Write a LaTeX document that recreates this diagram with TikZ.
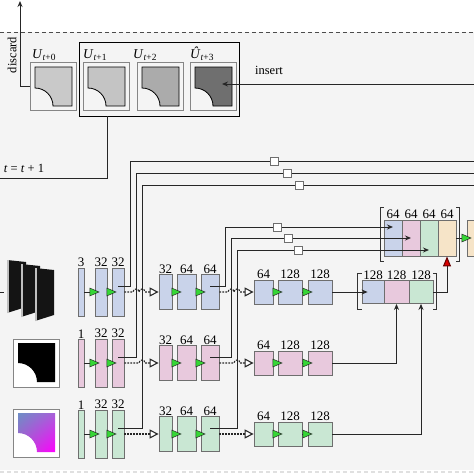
\documentclass[tikz,border=0pt]{standalone}
\usepackage{fontspec}
\setmainfont{Liberation Serif}
\usetikzlibrary{arrows.meta,calc,shadings}
\definecolor{bgc}{HTML}{F4F4F4}
\definecolor{cblue}{HTML}{C9D3EA}
\definecolor{cpink}{HTML}{E8C9DD}
\definecolor{cgreen}{HTML}{C9E7D3}
\definecolor{corange}{HTML}{F6E4C8}
\definecolor{bord}{HTML}{6E6E6E}
\definecolor{fgray}{HTML}{858585}
\definecolor{garrow}{HTML}{36D636}
\definecolor{cuA}{HTML}{C9C9C9}
\definecolor{cuB}{HTML}{C4C4C4}
\definecolor{cuC}{HTML}{ABABAB}
\definecolor{cuD}{HTML}{6F6F6F}
\definecolor{gUL}{HTML}{6E8EC6}
\definecolor{gUR}{HTML}{A860D8}
\definecolor{gLL}{HTML}{B050D0}
\definecolor{gLR}{HTML}{FF00FF}
\begin{document}
\begin{tikzpicture}[x=1pt,y=1pt,
  bx/.style={draw=bord, line width=0.8pt, inner sep=0pt},
  lab/.style={font=\fontsize{13}{13}\selectfont, inner sep=0.4pt, anchor=south},
  txt/.style={font=\fontsize{12.5}{12.5}\selectfont, inner sep=0pt},
  ln/.style={line width=1pt, draw=black!85},
  garr/.style={ln, -{Triangle[length=10pt,width=8.5pt,fill=garrow,line width=0.5pt]}, shorten >=-5pt},
  darr/.style={ln, line width=1.1pt, dash pattern=on 1.8pt off 1.2pt, -{Triangle[length=9pt,width=9pt,fill=white]}},
  karr/.style={ln, -{Stealth[length=6pt,width=5pt]}},
  sq/.style={draw=bord, fill=white, minimum size=8pt, inner sep=0pt, line width=0.8pt},
  frm/.style={draw=fgray, line width=0.9pt, minimum width=46pt, minimum height=48pt, inner sep=0pt},
  brk/.style={line width=0.9pt, draw=black!80},
]
\clip (0,0) rectangle (474,-474);
\fill[white] (0,0) rectangle (474,-474);
\fill[bgc] (0,-32) rectangle (474,-470);
\draw[dash pattern=on 4pt off 3pt, line width=0.8pt, black!70] (0,-32) -- (474,-32);
\draw[dash pattern=on 4pt off 3pt, line width=1.2pt, black!12] (0,-472) -- (474,-472);

% ---------- top: buffer ----------
\node[draw=black, line width=1pt, minimum width=160pt, minimum height=74pt, inner sep=0pt] (big) at (159,-79) {};
\node[frm] (u0) at (53,-86) {};
\node[frm] (u1) at (106,-86) {};
\node[frm] (u2) at (160,-86) {};
\node[frm] (u3) at (213,-86) {};
\foreach \L/\c in {30/cuA, 83/cuB, 137/cuC, 190/cuD}{
  \filldraw[fill=\c, draw=black, line width=0.8pt] (\L+5,-67) -- (\L+42,-67) -- (\L+42,-106) -- (\L+23,-106) arc[start angle=0,end angle=90,radius=18] -- cycle;
}
\node[anchor=base west, inner sep=0pt, font=\fontsize{13.5}{13.5}\selectfont] (lu0) at (32,-58) {\textit{U}\textsubscript{\textit{t}+0}};
\node[anchor=base west, inner sep=0pt, font=\fontsize{13.5}{13.5}\selectfont] (lu1) at (83,-58) {\textit{U}\textsubscript{\textit{t}+1}};
\node[anchor=base west, inner sep=0pt, font=\fontsize{13.5}{13.5}\selectfont] (lu2) at (133,-58) {\textit{U}\textsubscript{\textit{t}+2}};
\node[anchor=base west, inner sep=0pt, font=\fontsize{13.5}{13.5}\selectfont] (lu3) at (190,-58) {\textit{Û}\textsubscript{\textit{t}+3}};

\coordinate (disc) at (20,-1);
\draw[karr] (u0.west) -| (disc);
\node[txt, rotate=90] (tdis) at (12,-55) {discard};

\coordinate (insS) at (474,-84);
\coordinate (insT) at (222,-84);
\draw[karr] (insS) -- (insT);
\node[txt] (tins) at (269,-70) {insert};

\coordinate (bigS) at (107,-116);
\coordinate (tL) at (0,-178);
\draw[ln] (bigS) |- (tL);
\node[txt] (tt) at (24,-168) {\textit{t} = \textit{t} + 1};

% ---------- left inputs ----------
\foreach \L/\T in {7/260, 21/264, 35/268}{
  \fill[black!92] (\L,-\T) -- (\L+19,-\T-2) -- (\L+19,-\T-47) -- (\L,-\T-53) -- cycle;
  \draw[black!25, line width=1.6pt] (\L+0.8,-\T) -- (\L+0.8,-\T-53);
}
\coordinate (stubA) at (0,-292);
\coordinate (stubB) at (4,-292);
\draw[ln] (stubA) -- (stubB);

\node[frm, fill=white] (im2) at (36,-363) {};
\fill[black] (18,-343) -- (55,-343) -- (55,-382) -- (37,-382) arc[start angle=0,end angle=90,radius=19] -- cycle;
\node[frm, fill=white] (im3) at (36,-433) {};
\shade[upper left=gUL, upper right=gUR, lower left=gLL, lower right=gLR] (18,-413) -- (55,-413) -- (55,-452) -- (37,-452) arc[start angle=0,end angle=90,radius=19] -- cycle;

% ---------- encoder rows ----------
\foreach \r/\yy/\col/\ch in {1/292/cblue/3, 2/363/cpink/1, 3/434/cgreen/1}{
  \node[bx,fill=\col,minimum width=6pt,minimum height=48pt] (a\r) at (81,-\yy) {};
  \node[bx,fill=\col,minimum width=12pt,minimum height=48pt] (b\r) at (101,-\yy) {};
  \node[bx,fill=\col,minimum width=12pt,minimum height=48pt] (c\r) at (118,-\yy) {};
  \node[bx,fill=\col,minimum width=13pt,minimum height=35pt] (d\r) at (165.5,-\yy) {};
  \node[bx,fill=\col,minimum width=19pt,minimum height=35pt] (e\r) at (186.5,-\yy) {};
  \node[bx,fill=\col,minimum width=18pt,minimum height=35pt] (f\r) at (210,-\yy) {};
  \node[bx,fill=\col,minimum width=19pt,minimum height=24pt] (g\r) at (263.5,-\yy) {};
  \node[bx,fill=\col,minimum width=24pt,minimum height=24pt] (h\r) at (290,-\yy) {};
  \node[bx,fill=\col,minimum width=24pt,minimum height=24pt] (k\r) at (320,-\yy) {};
  \node[lab] (la\r) at (a\r.north) {\ch};
  \node[lab] (lb\r) at (b\r.north) {32};
  \node[lab] (lc\r) at (c\r.north) {32};
  \node[lab] (ld\r) at (d\r.north) {32};
  \node[lab] (le\r) at (e\r.north) {64};
  \node[lab] (lf\r) at (f\r.north) {64};
  \node[lab] (lg\r) at (g\r.north) {64};
  \node[lab] (lh\r) at (h\r.north) {128};
  \node[lab] (lk\r) at (k\r.north) {128};
  \draw[garr] (a\r) -- (b\r);
  \draw[garr] (b\r) -- (c\r);
  \draw[garr] (d\r) -- (e\r);
  \draw[garr] (e\r) -- (f\r);
  \draw[garr] (g\r) -- (h\r);
  \draw[garr] (h\r) -- (k\r);
}

% ---------- concatenation blocks ----------
\node[bx,fill=cblue,minimum width=18pt,minimum height=36pt] (p1) at (393,-238) {};
\node[bx,fill=cpink,minimum width=18pt,minimum height=36pt] (p2) at (411,-238) {};
\node[bx,fill=cgreen,minimum width=18pt,minimum height=36pt] (p3) at (429,-238) {};
\node[bx,fill=corange,minimum width=18pt,minimum height=36pt] (p4) at (447,-238) {};
\node[bx,fill=corange,minimum width=18pt,minimum height=36pt] (o) at (476,-238) {};
\foreach \n in {1,2,3,4}{ \node[lab] (lp\n) at (p\n.north) {64}; }
\draw[brk] ($(p1.north west)+(0,12)$) -- ++(-3,0) -- ++(0,-54) -- ++(3,0);
\draw[brk] ($(p4.north east)+(0,12)$) -- ++(3,0) -- ++(0,-54) -- ++(-3,0);

\node[bx,fill=cblue,minimum width=22pt,minimum height=23pt] (q1) at (373,-292) {};
\node[bx,fill=cpink,minimum width=25pt,minimum height=23pt] (q2) at (396.5,-292) {};
\node[bx,fill=cgreen,minimum width=24pt,minimum height=23pt] (q3) at (421,-292) {};
\foreach \n in {1,2,3}{ \node[lab] (lq\n) at (q\n.north) {128}; }
\draw[brk] ($(q1.north west)+(0,6.5)$) -- ++(-4,0) -- ++(0,-36) -- ++(4,0);
\draw[brk] ($(q3.north east)+(0,6.5)$) -- ++(3,0) -- ++(0,-36) -- ++(-3,0);

% ---------- skip connections ----------
\coordinate (vA1) at (130,-161); \coordinate (eA1) at (474,-161);
\coordinate (vA2) at (136,-173); \coordinate (eA2) at (474,-173);
\coordinate (vA3) at (142,-185); \coordinate (eA3) at (474,-185);
\coordinate (vB1) at (225,-227);
\coordinate (vB2) at (231,-238);
\coordinate (vB3) at (237,-250);
\foreach \r in {1,2,3}{
  \draw[ln] ($(c\r.center)+(0,6)$) -| (vA\r) -- (eA\r);
  \draw[karr] ($(f\r.center)+(0,6)$) -| (vB\r) -- (vB\r -| p\r.center);
}
\node[sq] (sA1) at (274,-161) {};
\node[sq] (sA2) at (287,-173) {};
\node[sq] (sA3) at (299,-185) {};
\node[sq] (sB1) at (277,-227) {};
\node[sq] (sB2) at (288,-238) {};
\node[sq] (sB3) at (298,-250) {};

% dotted transitions with line hops
\draw[darr] (c1.east) -- ($(c1.east -| vA2)+(-3,0)$) arc[start angle=180,end angle=0,radius=3] -- ($(c1.east -| vA3)+(-3,0)$) arc[start angle=180,end angle=0,radius=3] -- (d1.west);
\draw[darr] (c2.east) -- ($(c2.east -| vA3)+(-3,0)$) arc[start angle=180,end angle=0,radius=3] -- (d2.west);
\draw[darr] (c3.east) -- (d3.west);
\draw[darr] (f1.east) -- ($(f1.east -| vB2)+(-3,0)$) arc[start angle=180,end angle=0,radius=3] -- ($(f1.east -| vB3)+(-3,0)$) arc[start angle=180,end angle=0,radius=3] -- (g1.west);
\draw[darr] (f2.east) -- ($(f2.east -| vB3)+(-3,0)$) arc[start angle=180,end angle=0,radius=3] -- (g2.west);
\draw[darr] (f3.east) -- (g3.west);

% decoder-side connections
\draw[karr] (k1.east) -- ($(q1.west)+(6,0)$);
\draw[karr] (k2.east) -| (q2.south);
\draw[karr] (k3.east) -| (q3.south);
\draw[ln, -{Triangle[length=10pt,width=8pt,fill=red!85!black,color=red!40!black]}] (q3.east) -| (p4.south);
\draw[garr] (p4.east) -- (o.west);
\end{tikzpicture}
\end{document}
